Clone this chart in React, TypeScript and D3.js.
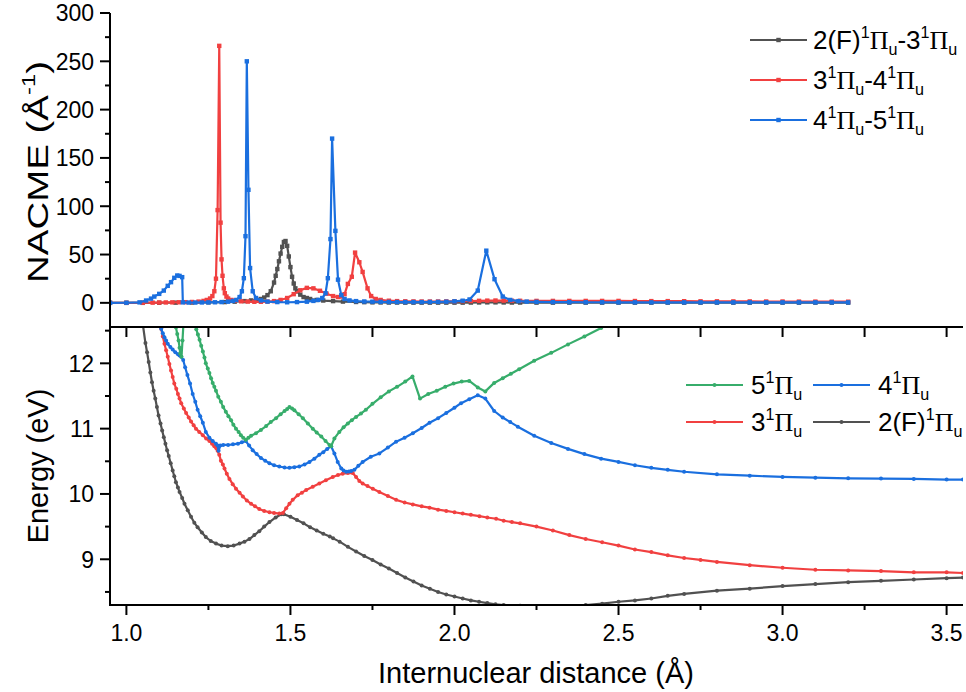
import React from 'react';
import * as d3 from 'd3';

type P = [number, number];

// ---------- NACME (top panel) ----------
const nacGray: P[] = [[0.95,0],[1.0,0],[1.05,0],[1.1,0.1],[1.15,0.2],[1.2,0.3],[1.25,0.5],[1.3,0.8],[1.33,1.2],[1.36,1.8],[1.38,2.5],[1.40,3],[1.41,4],[1.42,5.5],[1.43,8],[1.44,12],[1.45,21],[1.455,28],[1.46,35],[1.465,43],[1.47,51],[1.475,58],[1.48,63],[1.485,64],[1.49,59],[1.495,48],[1.50,37],[1.505,27],[1.51,20],[1.515,15],[1.52,12],[1.53,8.5],[1.54,6],[1.55,5],[1.56,4],[1.58,3],[1.60,2.4],[1.63,1.8],[1.66,1.3],[1.70,0.9],[1.725,0.7],[1.75,0.5],[1.775,0.4],[1.80,0.3],[1.825,0.3],[1.85,0.2],[1.875,0.2],[1.90,0.2],[1.925,0.2],[1.95,0.2],[1.975,0.2],[2.0,0.2],[2.025,0.2],[2.05,0.3],[2.075,0.4],[2.1,0.5],[2.125,0.5],[2.15,0.4],[2.175,0.3],[2.2,0.3],[2.25,0.2],[2.3,0.2],[2.35,0.2],[2.4,0.2],[2.45,0.2],[2.5,0.2],[2.55,0.2],[2.6,0.2],[2.65,0.2],[2.7,0.2],[2.75,0.2],[2.8,0.2],[2.85,0.2],[2.9,0.2],[2.95,0.2],[3.0,0.2],[3.05,0.2],[3.1,0.2],[3.15,0.2],[3.2,0.2]];

const nacRed: P[] = [[0.95,0],[1.0,0],[1.05,0.1],[1.08,0.2],[1.1,0.3],[1.12,0.4],[1.14,0.5],[1.16,0.6],[1.18,0.7],[1.2,0.9],[1.22,1.3],[1.235,2],[1.245,3],[1.255,4.5],[1.262,7],[1.268,12],[1.273,25],[1.278,96],[1.283,266],[1.287,83],[1.29,45],[1.293,28],[1.297,15],[1.30,10],[1.305,6.5],[1.31,4.5],[1.32,3],[1.33,2.2],[1.35,1.6],[1.37,1.3],[1.39,1.1],[1.41,1.1],[1.43,1.3],[1.45,1.8],[1.47,3],[1.49,5],[1.51,9],[1.53,13],[1.55,15.5],[1.57,15],[1.59,12.5],[1.61,9.5],[1.63,7],[1.645,6],[1.655,6.5],[1.665,9],[1.675,19.6],[1.687,27],[1.697,52],[1.71,42],[1.72,32],[1.735,15],[1.746,7],[1.76,4],[1.775,3],[1.8,2.2],[1.825,1.8],[1.85,1.6],[1.875,1.5],[1.9,1.4],[1.925,1.4],[1.95,1.4],[1.975,1.5],[2.0,1.6],[2.025,1.7],[2.05,1.9],[2.075,2.1],[2.1,2.3],[2.125,2.4],[2.15,2.3],[2.175,2.2],[2.2,2.1],[2.25,2],[2.3,2],[2.35,2],[2.4,2],[2.45,2],[2.5,2],[2.55,1.9],[2.6,1.8],[2.65,1.8],[2.7,1.7],[2.75,1.6],[2.8,1.6],[2.85,1.5],[2.9,1.5],[2.95,1.4],[3.0,1.4],[3.05,1.3],[3.1,1.3],[3.15,1.2],[3.2,1.2]];

const nacBlue: P[] = [[0.95,0],[1.0,0.1],[1.04,0.5],[1.06,2.4],[1.075,4.4],[1.085,6.5],[1.10,9.3],[1.114,12.7],[1.126,17.6],[1.136,21.4],[1.146,25.9],[1.155,28.3],[1.162,27.9],[1.17,26.6],[1.172,0.5],[1.19,0.3],[1.21,0.3],[1.23,0.4],[1.25,0.5],[1.27,0.6],[1.29,0.8],[1.31,1.2],[1.325,2],[1.335,3],[1.345,6],[1.352,12],[1.358,25.5],[1.363,69],[1.367,250],[1.372,117],[1.377,36],[1.385,12],[1.395,5],[1.41,2.5],[1.43,1.3],[1.46,0.8],[1.49,0.6],[1.52,0.8],[1.55,1.2],[1.57,2],[1.585,3],[1.597,5],[1.607,10],[1.614,25.5],[1.622,66],[1.627,170],[1.637,74.5],[1.645,24],[1.655,8],[1.665,4],[1.68,2.5],[1.70,1.8],[1.725,1.4],[1.75,1.2],[1.775,1],[1.80,0.9],[1.825,0.8],[1.85,0.8],[1.875,0.8],[1.90,0.8],[1.925,0.9],[1.95,1],[1.975,1.2],[2.0,1.6],[2.025,2.2],[2.046,3.5],[2.071,12.7],[2.097,54],[2.122,24.5],[2.147,6.5],[2.17,3],[2.195,1.8],[2.22,1.3],[2.25,1],[2.3,0.8],[2.35,0.7],[2.4,0.6],[2.45,0.6],[2.5,0.5],[2.55,0.5],[2.6,0.5],[2.65,0.5],[2.7,0.5],[2.75,0.5],[2.8,0.5],[2.85,0.5],[2.9,0.5],[2.95,0.5],[3.0,0.5],[3.05,0.5],[3.1,0.5],[3.15,0.5],[3.2,0.5]];

// ---------- Energies (bottom panel) ----------
const eGray: P[] = [[1.045,12.9],[1.05,12.6],[1.058,12.31],[1.063,12.17],[1.068,12.02],[1.073,11.86],[1.078,11.71],[1.083,11.58],[1.088,11.46],[1.093,11.33],[1.098,11.20],[1.104,11.08],[1.109,10.97],[1.114,10.87],[1.119,10.77],[1.124,10.67],[1.129,10.58],[1.135,10.47],[1.141,10.36],[1.146,10.27],[1.151,10.18],[1.157,10.10],[1.162,10.03],[1.17,9.94],[1.177,9.85],[1.187,9.75],[1.197,9.65],[1.207,9.56],[1.217,9.49],[1.23,9.41],[1.242,9.34],[1.257,9.28],[1.273,9.24],[1.29,9.21],[1.309,9.20],[1.327,9.21],[1.345,9.24],[1.36,9.27],[1.375,9.31],[1.39,9.37],[1.405,9.43],[1.42,9.50],[1.436,9.57],[1.455,9.64],[1.472,9.69],[1.48,9.69],[1.50,9.65],[1.52,9.60],[1.54,9.55],[1.56,9.49],[1.58,9.44],[1.60,9.39],[1.62,9.35],[1.63,9.32],[1.65,9.27],[1.675,9.19],[1.70,9.12],[1.725,9.05],[1.75,8.99],[1.775,8.92],[1.80,8.86],[1.825,8.79],[1.85,8.72],[1.875,8.66],[1.90,8.60],[1.925,8.55],[1.95,8.50],[1.975,8.46],[2.0,8.43],[2.025,8.40],[2.05,8.37],[2.075,8.35],[2.1,8.33],[2.125,8.31],[2.15,8.30],[2.2,8.29],[2.25,8.28],[2.3,8.28],[2.35,8.28],[2.4,8.30],[2.45,8.32],[2.5,8.35],[2.55,8.37],[2.6,8.40],[2.65,8.44],[2.7,8.47],[2.8,8.52],[2.9,8.55],[3.0,8.59],[3.1,8.62],[3.2,8.65],[3.3,8.67],[3.4,8.69],[3.5,8.71],[3.55,8.72]];

const eRed: P[] = [[1.10,12.65],[1.106,12.53],[1.111,12.41],[1.116,12.30],[1.121,12.20],[1.126,12.10],[1.131,11.99],[1.136,11.89],[1.141,11.79],[1.146,11.69],[1.152,11.61],[1.157,11.53],[1.162,11.46],[1.167,11.39],[1.175,11.31],[1.182,11.24],[1.19,11.17],[1.197,11.11],[1.205,11.05],[1.212,11.00],[1.222,10.95],[1.233,10.90],[1.243,10.85],[1.253,10.81],[1.261,10.77],[1.268,10.73],[1.274,10.70],[1.278,10.66],[1.283,10.60],[1.288,10.51],[1.294,10.45],[1.299,10.39],[1.306,10.31],[1.314,10.23],[1.324,10.15],[1.334,10.08],[1.345,10.02],[1.355,9.96],[1.367,9.90],[1.38,9.85],[1.392,9.81],[1.405,9.77],[1.42,9.74],[1.436,9.72],[1.45,9.71],[1.466,9.70],[1.477,9.71],[1.487,9.78],[1.497,9.85],[1.507,9.91],[1.522,9.98],[1.535,10.02],[1.548,10.06],[1.568,10.11],[1.588,10.16],[1.608,10.21],[1.629,10.26],[1.645,10.29],[1.659,10.31],[1.675,10.32],[1.69,10.32],[1.70,10.26],[1.71,10.20],[1.72,10.16],[1.735,10.12],[1.751,10.08],[1.771,10.03],[1.797,9.97],[1.822,9.91],[1.848,9.87],[1.873,9.84],[1.90,9.81],[1.924,9.79],[1.95,9.76],[1.975,9.74],[2.0,9.72],[2.025,9.70],[2.05,9.68],[2.076,9.66],[2.1,9.64],[2.127,9.62],[2.15,9.59],[2.175,9.57],[2.2,9.55],[2.25,9.50],[2.3,9.44],[2.35,9.37],[2.4,9.31],[2.45,9.26],[2.5,9.21],[2.55,9.15],[2.6,9.11],[2.65,9.06],[2.7,9.02],[2.75,8.99],[2.8,8.96],[2.9,8.91],[3.0,8.87],[3.1,8.84],[3.2,8.83],[3.3,8.82],[3.4,8.80],[3.5,8.80],[3.55,8.79]];

const eBlue: P[] = [[1.10,12.66],[1.106,12.53],[1.111,12.46],[1.116,12.40],[1.121,12.35],[1.126,12.30],[1.134,12.25],[1.141,12.21],[1.149,12.17],[1.157,12.14],[1.162,12.12],[1.167,12.10],[1.173,12.05],[1.179,11.94],[1.186,11.82],[1.194,11.69],[1.202,11.53],[1.210,11.41],[1.217,11.29],[1.225,11.19],[1.233,11.09],[1.242,10.95],[1.253,10.86],[1.263,10.81],[1.273,10.77],[1.278,10.74],[1.281,10.66],[1.286,10.74],[1.295,10.75],[1.31,10.75],[1.325,10.76],[1.34,10.77],[1.352,10.79],[1.364,10.81],[1.374,10.74],[1.385,10.67],[1.397,10.61],[1.41,10.55],[1.423,10.51],[1.436,10.47],[1.45,10.44],[1.466,10.42],[1.482,10.405],[1.497,10.40],[1.512,10.41],[1.527,10.42],[1.543,10.45],[1.558,10.49],[1.573,10.54],[1.588,10.60],[1.60,10.64],[1.612,10.69],[1.624,10.73],[1.634,10.62],[1.644,10.49],[1.655,10.39],[1.662,10.36],[1.67,10.34],[1.678,10.345],[1.685,10.35],[1.695,10.37],[1.707,10.43],[1.72,10.49],[1.745,10.57],[1.771,10.62],[1.797,10.71],[1.822,10.80],[1.848,10.86],[1.873,10.93],[1.90,11.01],[1.924,11.09],[1.95,11.16],[1.975,11.24],[2.0,11.32],[2.02,11.39],[2.045,11.45],[2.071,11.51],[2.094,11.46],[2.121,11.27],[2.147,11.17],[2.17,11.10],[2.193,11.03],[2.243,10.89],[2.295,10.78],[2.346,10.69],[2.396,10.61],[2.447,10.54],[2.5,10.49],[2.55,10.44],[2.6,10.40],[2.65,10.37],[2.7,10.34],[2.8,10.30],[2.9,10.28],[3.0,10.26],[3.1,10.25],[3.2,10.24],[3.3,10.235],[3.4,10.23],[3.5,10.22],[3.55,10.22]];

const eGreen: P[] = [[1.148,12.64],[1.151,12.55],[1.155,12.45],[1.159,12.35],[1.162,12.24],[1.164,12.15],[1.168,12.10],[1.171,12.35],[1.174,12.62],[1.21,12.62],[1.213,12.52],[1.218,12.44],[1.223,12.36],[1.228,12.27],[1.233,12.18],[1.238,12.09],[1.242,12.00],[1.248,11.92],[1.253,11.85],[1.258,11.77],[1.263,11.70],[1.268,11.64],[1.273,11.58],[1.28,11.49],[1.288,11.41],[1.295,11.33],[1.303,11.26],[1.311,11.19],[1.319,11.13],[1.326,11.06],[1.334,11.00],[1.342,10.95],[1.349,10.90],[1.356,10.86],[1.364,10.83],[1.372,10.86],[1.38,10.89],[1.395,10.93],[1.41,10.98],[1.426,11.04],[1.44,11.10],[1.456,11.16],[1.47,11.22],[1.482,11.27],[1.49,11.30],[1.497,11.33],[1.505,11.31],[1.512,11.28],[1.525,11.22],[1.538,11.16],[1.553,11.08],[1.568,11.00],[1.58,10.94],[1.594,10.88],[1.607,10.81],[1.619,10.75],[1.624,10.73],[1.634,10.85],[1.649,10.95],[1.662,11.02],[1.675,11.08],[1.687,11.13],[1.70,11.18],[1.715,11.23],[1.73,11.29],[1.75,11.38],[1.775,11.48],[1.80,11.57],[1.825,11.64],[1.85,11.72],[1.872,11.80],[1.895,11.46],[1.92,11.53],[1.946,11.58],[1.972,11.64],[1.997,11.69],[2.022,11.72],[2.045,11.73],[2.071,11.63],[2.094,11.57],[2.121,11.70],[2.147,11.77],[2.172,11.84],[2.197,11.91],[2.243,12.04],[2.295,12.16],[2.346,12.29],[2.396,12.41],[2.447,12.54],[2.49,12.66]];

// ---------- ticks ----------
const xMajorTicks = [1.0, 1.5, 2.0, 2.5, 3.0, 3.5];
const xMinorTicks = [1.25, 1.75, 2.25, 2.75, 3.25];
const nacMajorTicks = [0, 50, 100, 150, 200, 250, 300];
const nacMinorTicks = [25, 75, 125, 175, 225, 275];
const eMajorTicks = [9, 10, 11, 12];
const eMinorTicks = [8.5, 9.5, 10.5, 11.5, 12.5];

// ---------- legend labels (segments: n normal, s sup, b sub, p Pi) ----------
type Seg = [string, 'n' | 's' | 'b' | 'p'];
const nacLabels: Seg[][] = [
  [['2(F)', 'n'], ['1', 's'], ['Π', 'p'], ['u', 'b'], ['-3', 'n'], ['1', 's'], ['Π', 'p'], ['u', 'b']],
  [['3', 'n'], ['1', 's'], ['Π', 'p'], ['u', 'b'], ['-4', 'n'], ['1', 's'], ['Π', 'p'], ['u', 'b']],
  [['4', 'n'], ['1', 's'], ['Π', 'p'], ['u', 'b'], ['-5', 'n'], ['1', 's'], ['Π', 'p'], ['u', 'b']],
];
const lab5: Seg[] = [['5', 'n'], ['1', 's'], ['Π', 'p'], ['u', 'b']];
const lab4: Seg[] = [['4', 'n'], ['1', 's'], ['Π', 'p'], ['u', 'b']];
const lab3: Seg[] = [['3', 'n'], ['1', 's'], ['Π', 'p'], ['u', 'b']];
const lab2: Seg[] = [['2(F)', 'n'], ['1', 's'], ['Π', 'p'], ['u', 'b']];

const C_GRAY = '#515151';
const C_RED = '#F14040';
const C_BLUE = '#1A6FDF';
const C_GREEN = '#37AD6B';

const SANS = '"Liberation Sans", Arial, sans-serif';
const SERIF = '"Liberation Serif", "Times New Roman", serif';

function RichText({ segs, x, y, fs }: { segs: Seg[]; x: number; y: number; fs: number }) {
  let cur = 0;
  const parts = segs.map((s, i) => {
    const [t, k] = s;
    const target = k === 's' ? -0.42 * fs : k === 'b' ? 0.22 * fs : 0;
    const dy = target - cur;
    cur = target;
    const size = k === 's' || k === 'b' ? fs * 0.62 : fs;
    return (
      <tspan key={i} dy={dy} fontSize={size} fontFamily={k === 'p' ? SERIF : SANS}>{t}</tspan>
    );
  });
  return (
    <text x={x} y={y} fill="#000">{parts}</text>
  );
}

export default function App() {
  const W = 966, H = 692;
  const L = 110, R = 963;
  const topT = 13, midY = 327, botB = 605;
  const x = d3.scaleLinear().domain([0.95, 3.55]).range([L, R]);
  const yN = d3.scaleLinear().domain([-25, 300]).range([midY, topT]);
  const yE = d3.scaleLinear().domain([8.3, 12.556]).range([botB, midY]);

  const lineN = d3.line<P>().x(d => x(d[0])).y(d => yN(d[1]));
  const lineE = d3.line<P>().x(d => x(d[0])).y(d => yE(d[1]));

  const nacSeries = [
    { data: nacGray, color: C_GRAY },
    { data: nacRed, color: C_RED },
    { data: nacBlue, color: C_BLUE },
  ];
  const eSeries = [
    { data: eGray, color: C_GRAY },
    { data: eRed, color: C_RED },
    { data: eBlue, color: C_BLUE },
    { data: eGreen, color: C_GREEN },
  ];

  const tickFs = 23;
  const titleFs = 29;
  const legFs = 26;
  const nacFs = 30;

  return (
    <svg width={W} height={H} style={{ position: 'absolute', left: 0, top: 0, background: '#fff' }}>
      <defs>
        <clipPath id="clipTop"><rect x={L} y={0} width={R - L} height={midY} /></clipPath>
        <clipPath id="clipBot"><rect x={L} y={midY} width={R - L} height={botB - midY} /></clipPath>
      </defs>
      <rect x={0} y={0} width={W} height={H} fill="#fff" />

      {/* top panel data */}
      <g clipPath="url(#clipTop)">
        {nacSeries.map((s, i) => (
          <g key={i}>
            <path d={lineN(s.data) || ''} fill="none" stroke={s.color} strokeWidth={2.2} strokeLinejoin="round" />
            {s.data.map((d, j) => (
              <rect key={j} x={x(d[0]) - 2.2} y={yN(d[1]) - 2.2} width={4.4} height={4.4} fill={s.color} />
            ))}
          </g>
        ))}
      </g>

      {/* bottom panel data */}
      <g clipPath="url(#clipBot)">
        {eSeries.map((s, i) => (
          <g key={i}>
            <path d={lineE(s.data) || ''} fill="none" stroke={s.color} strokeWidth={2.2} strokeLinejoin="round" />
            {s.data.map((d, j) => (
              <circle key={j} cx={x(d[0])} cy={yE(d[1])} r={2} fill={s.color} />
            ))}
          </g>
        ))}
      </g>

      {/* axes */}
      <g stroke="#000" strokeWidth={2} fill="none">
        <line x1={L} y1={topT} x2={L} y2={botB + 1} />
        <line x1={L - 1} y1={midY} x2={R} y2={midY} />
        <line x1={L - 1} y1={botB} x2={R} y2={botB} />
        {nacMajorTicks.map(v => <line key={'nm' + v} x1={L - 10} x2={L} y1={yN(v)} y2={yN(v)} />)}
        {nacMinorTicks.map(v => <line key={'nn' + v} x1={L - 5} x2={L} y1={yN(v)} y2={yN(v)} />)}
        {eMajorTicks.map(v => <line key={'em' + v} x1={L - 10} x2={L} y1={yE(v)} y2={yE(v)} />)}
        {eMinorTicks.map(v => <line key={'en' + v} x1={L - 5} x2={L} y1={yE(v)} y2={yE(v)} />)}
        {xMajorTicks.map(v => <line key={'xm' + v} x1={x(v)} x2={x(v)} y1={botB} y2={botB + 10} />)}
        {xMinorTicks.map(v => <line key={'xn' + v} x1={x(v)} x2={x(v)} y1={botB} y2={botB + 5} />)}
        {xMajorTicks.concat(xMinorTicks).map(v => <line key={'xt' + v} x1={x(v)} x2={x(v)} y1={midY} y2={midY + 10} />)}
      </g>

      {/* tick labels */}
      <g fontFamily={SANS} fontSize={tickFs} fill="#000">
        {nacMajorTicks.map(v => <text key={'tn' + v} x={L - 16} y={yN(v)} dy="0.36em" textAnchor="end">{v}</text>)}
        {eMajorTicks.map(v => <text key={'te' + v} x={L - 16} y={yE(v)} dy="0.36em" textAnchor="end">{v}</text>)}
        {xMajorTicks.map(v => <text key={'tx' + v} x={x(v)} y={botB + 36} textAnchor="middle">{d3.format('.1f')(v)}</text>)}
      </g>

      {/* axis titles */}
      <text x={536} y={683} textAnchor="middle" fontFamily={SANS} fontSize={titleFs}>Internuclear distance (Å)</text>
      <text transform="translate(48,466) rotate(-90)" textAnchor="middle" fontFamily={SANS} fontSize={titleFs}>Energy (eV)</text>
      <text transform="translate(48,172) rotate(-90)" textAnchor="middle" fontFamily={SANS} fontSize={nacFs} textLength={222} lengthAdjust="spacingAndGlyphs">
        NACME (Å<tspan dy={-0.42 * nacFs} fontSize={nacFs * 0.62}>-1</tspan><tspan dy={0.42 * nacFs}>)</tspan>
      </text>

      {/* top legend */}
      {nacSeries.map((s, i) => {
        const yy = 40 + i * 40;
        return (
          <g key={'lg' + i}>
            <line x1={750} x2={807} y1={yy} y2={yy} stroke={s.color} strokeWidth={2.2} />
            <rect x={776.3} y={yy - 2.2} width={4.4} height={4.4} fill={s.color} />
            <RichText segs={nacLabels[i]} x={813} y={yy + 9} fs={legFs} />
          </g>
        );
      })}

      {/* bottom legend */}
      {[
        { c: C_GREEN, l: lab5, lx: 686, ly: 385 },
        { c: C_BLUE, l: lab4, lx: 813, ly: 385 },
        { c: C_RED, l: lab3, lx: 686, ly: 422 },
        { c: C_GRAY, l: lab2, lx: 813, ly: 422 },
      ].map((o, i) => (
        <g key={'lb' + i}>
          <line x1={o.lx} x2={o.lx + 57} y1={o.ly} y2={o.ly} stroke={o.c} strokeWidth={2.2} />
          <circle cx={o.lx + 28.5} cy={o.ly} r={2} fill={o.c} />
          <RichText segs={o.l} x={o.lx + 65} y={o.ly + 9} fs={legFs} />
        </g>
      ))}
    </svg>
  );
}
